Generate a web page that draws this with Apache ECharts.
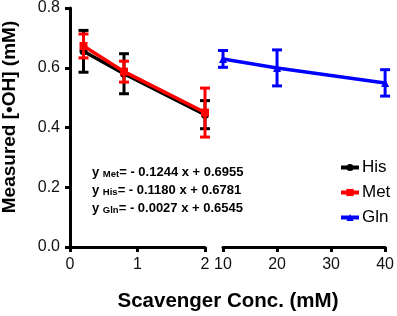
<!DOCTYPE html>
<html>
<head>
<meta charset="utf-8">
<title>Scavenger</title>
<script src="https://cdn.jsdelivr.net/npm/echarts@6/dist/echarts.min.js"></script>
<style>
  html, body { margin: 0; padding: 0; background: #fff; }
  #main { width: 397px; height: 316px; }
</style>
</head>
<body>
<div id="main"></div>
<script>
// low concentration segment (0-2 mM)
var lowX = [0.2, 0.8, 2];
var hisMean = [0.655, 0.58, 0.443];
var hisErr = [0.07, 0.067, 0.047];
var metMean = [0.673, 0.587, 0.45];
var metErr = [0.04, 0.035, 0.082];
// high concentration segment (10-40 mM)
var highX = [10, 20, 40];
var glnMean = [0.627, 0.597, 0.547];
var glnErr = [0.028, 0.06, 0.044];

var eqNames = ['Met', 'His', 'Gln'];
var eqText = ['= - 0.1244 x + 0.6955', '= - 0.1180 x + 0.6781', '= - 0.0027 x + 0.6545'];

var FONT = 'Liberation Sans, Arial, sans-serif';

function pts(xs, ys) {
    return xs.map(function (x, i) { return [x, ys[i]]; });
}
function errs(xs, ys, es) {
    return xs.map(function (x, i) { return [x, ys[i] - es[i], ys[i] + es[i]]; });
}

function errBar(color, cap) {
    return function (params, api) {
        var top = api.coord([api.value(0), api.value(2)]);
        var bot = api.coord([api.value(0), api.value(1)]);
        var st = { stroke: color, lineWidth: 3 };
        return {
            type: 'group',
            children: [
                { type: 'line', shape: { x1: top[0], y1: top[1], x2: bot[0], y2: bot[1] }, style: st },
                { type: 'line', shape: { x1: top[0] - cap, y1: top[1], x2: top[0] + cap, y2: top[1] }, style: st },
                { type: 'line', shape: { x1: bot[0] - cap, y1: bot[1], x2: bot[0] + cap, y2: bot[1] }, style: st }
            ]
        };
    };
}

var myChart = echarts.init(document.getElementById('main'));

var axisCommon = {
    type: 'value',
    axisLine: { show: true, lineStyle: { color: '#000', width: 3 } },
    axisTick: { show: true, length: 5, lineStyle: { color: '#000', width: 3 } },
    axisLabel: { color: '#111', fontSize: 16, fontFamily: FONT, margin: 10 },
    splitLine: { show: false }
};

var graphics = [];
eqNames.forEach(function (n, i) {
    graphics.push({
        type: 'text',
        left: 92,
        top: 166 + i * 18,
        style: {
            text: '{b|y }{s|' + n + '}{b|' + eqText[i] + '}',
            rich: {
                b: { fontSize: 13, fontWeight: 'bold', fontFamily: FONT, fill: '#000', verticalAlign: 'bottom', lineHeight: 15 },
                s: { fontSize: 9.5, fontWeight: 'bold', fontFamily: FONT, fill: '#000', verticalAlign: 'bottom', lineHeight: 11 }
            }
        }
    });
});
// y axis title
graphics.push({
    type: 'text',
    x: 10,
    y: 117,
    rotation: Math.PI / 2,
    style: { text: 'Measured [•OH] (mM)', fontSize: 19, fontWeight: 'bold', fontFamily: FONT, fill: '#000', align: 'center', verticalAlign: 'middle' }
});
// x axis title
graphics.push({
    type: 'text',
    x: 228,
    y: 301,
    style: { text: 'Scavenger Conc. (mM)', fontSize: 20.5, fontWeight: 'bold', fontFamily: FONT, fill: '#000', align: 'center', verticalAlign: 'middle' }
});

var option = {
    animation: false,
    grid: [
        { left: 70, right: 192, top: 7, bottom: 69 },
        { left: 223, right: 10, top: 7, bottom: 69 }
    ],
    xAxis: [
        Object.assign({}, axisCommon, { gridIndex: 0, min: 0, max: 2, interval: 1 }),
        Object.assign({}, axisCommon, { gridIndex: 1, min: 10, max: 40, interval: 10 })
    ],
    yAxis: [
        Object.assign({}, axisCommon, {
            gridIndex: 0, min: 0, max: 0.8, interval: 0.2,
            axisLabel: { color: '#111', fontSize: 16, fontFamily: FONT, margin: 10, formatter: function (v) { return v.toFixed(1); } }
        }),
        { type: 'value', gridIndex: 1, min: 0, max: 0.8, show: false }
    ],
    legend: {
        orient: 'vertical',
        left: 334,
        top: 154,
        itemWidth: 18,
        itemHeight: 9,
        itemGap: 8,
        data: ['His', 'Met', 'Gln'],
        lineStyle: { width: 4 },
        textStyle: { fontSize: 17, fontFamily: FONT, color: '#000', padding: [0, 0, 0, -2] }
    },
    graphic: graphics,
    series: [
        {
            name: 'hisErr', type: 'custom', xAxisIndex: 0, yAxisIndex: 0,
            renderItem: errBar('#000', 5), data: errs(lowX, hisMean, hisErr), z: 2
        },
        {
            name: 'His', type: 'line', xAxisIndex: 0, yAxisIndex: 0,
            data: pts(lowX, hisMean), symbol: 'circle', symbolSize: 8,
            itemStyle: { color: '#000' }, lineStyle: { color: '#000', width: 3.5 }, z: 3
        },
        {
            name: 'metErr', type: 'custom', xAxisIndex: 0, yAxisIndex: 0,
            renderItem: errBar('#f00', 5), data: errs(lowX, metMean, metErr), z: 4
        },
        {
            name: 'Met', type: 'line', xAxisIndex: 0, yAxisIndex: 0,
            data: pts(lowX, metMean), symbol: 'rect', symbolSize: 8,
            itemStyle: { color: '#f00' }, lineStyle: { color: '#f00', width: 3.5 }, z: 5
        },
        {
            name: 'glnErr', type: 'custom', xAxisIndex: 1, yAxisIndex: 1,
            renderItem: errBar('#00f', 5), data: errs(highX, glnMean, glnErr), z: 4
        },
        {
            name: 'Gln', type: 'line', xAxisIndex: 1, yAxisIndex: 1,
            data: pts(highX, glnMean), symbol: 'triangle', symbolSize: 8,
            itemStyle: { color: '#00f' }, lineStyle: { color: '#00f', width: 3.5 }, z: 5
        }
    ]
};

myChart.setOption(option);
</script>
</body>
</html>
